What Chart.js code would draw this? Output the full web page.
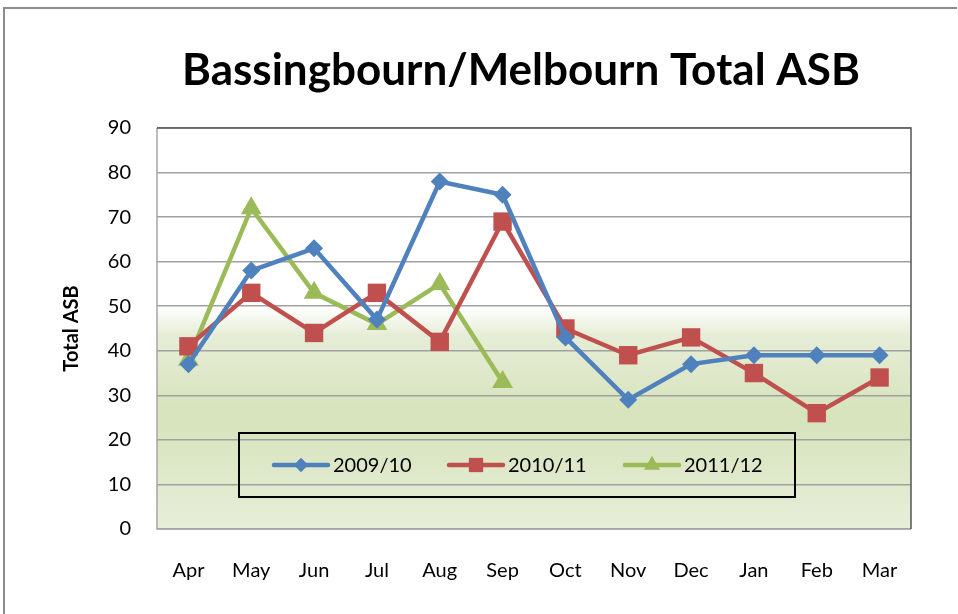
<!DOCTYPE html>
<html>
<head>
<meta charset="utf-8">
<script src="https://cdn.jsdelivr.net/npm/chart.js@4.4.0/dist/chart.umd.min.js"></script>
<style>
  html, body { margin: 0; padding: 0; background: #ffffff; }
  #wrap { width: 958px; height: 614px; position: relative; }
</style>
</head>
<body>
<div id="wrap"><canvas id="c" width="958" height="614"></canvas></div>
<script>
const months = ['Apr','May','Jun','Jul','Aug','Sep','Oct','Nov','Dec','Jan','Feb','Mar'];
const s2009 = [37, 58, 63, 47, 78, 75, 43, 29, 37, 39, 39, 39];
const s2010 = [41, 53, 44, 53, 42, 69, 45, 39, 43, 35, 26, 34];
const s2011 = [38, 72, 53, 46, 55, 33];
const seriesNames = ['2009/10', '2010/11', '2011/12'];
const yTicks = [0, 10, 20, 30, 40, 50, 60, 70, 80, 90];
const chartTitle = 'Bassingbourn/Melbourn Total ASB';
const yTitle = 'Total ASB';

const BLUE = '#4F81BD', RED = '#C0504D', GREEN = '#9BBB59';
const FONT = 'Lato';

const bgPlugin = {
  id: 'bg',
  beforeDraw(chart) {
    const { ctx, chartArea: a } = chart;
    ctx.save();
    // outer frame
    ctx.strokeStyle = '#8c8c8c';
    ctx.lineWidth = 2;
    ctx.beginPath();
    ctx.moveTo(4, 614); ctx.lineTo(4, 8); ctx.lineTo(957, 8);
    ctx.stroke();
    // chart title
    ctx.fillStyle = '#000000';
    ctx.font = 'bold 44px ' + FONT;
    ctx.textAlign = 'center';
    ctx.textBaseline = 'alphabetic';
    ctx.fillText(chartTitle, 521, 85);
    // plot background gradient
    const h = a.bottom - a.top;
    const g = ctx.createLinearGradient(0, a.top, 0, a.bottom);
    g.addColorStop(0, '#ffffff');
    g.addColorStop((307 - a.top) / h, '#ffffff');
    g.addColorStop((335 - a.top) / h, '#e6edd7');
    g.addColorStop((415 - a.top) / h, '#d6e3bb');
    g.addColorStop(1, '#e7eed9');
    ctx.fillStyle = g;
    ctx.fillRect(a.left, a.top, a.right - a.left, h);
    ctx.restore();
  },
  afterDatasetsDraw(chart) {
    const { ctx, chartArea: a } = chart;
    ctx.save();
    // plot border
    ctx.lineWidth = 1.5;
    ctx.strokeStyle = '#a6a6a6';
    ctx.beginPath();
    ctx.moveTo(a.left, a.top); ctx.lineTo(a.left, a.bottom); ctx.lineTo(a.right, a.bottom);
    ctx.stroke();
    ctx.strokeStyle = '#555555';
    ctx.beginPath();
    ctx.moveTo(a.left, a.top); ctx.lineTo(a.right, a.top); ctx.lineTo(a.right, a.bottom);
    ctx.stroke();

    // legend box
    const bx = 239, by = 433, bw = 556, bh = 64;
    ctx.strokeStyle = '#000000';
    ctx.lineWidth = 2;
    ctx.strokeRect(bx, by, bw, bh);
    const cy = 465;
    const items = [
      { x: 274, color: BLUE, style: 'rectRot', r: 7 },
      { x: 449, color: RED, style: 'rect', r: 10 },
      { x: 625, color: GREEN, style: 'triangle', r: 9 }
    ];
    ctx.font = '20px ' + FONT;
    ctx.textBaseline = 'middle';
    ctx.textAlign = 'left';
    items.forEach((it, i) => {
      ctx.strokeStyle = it.color;
      ctx.lineWidth = 4.5;
      ctx.lineCap = 'round';
      ctx.beginPath();
      ctx.moveTo(it.x, cy); ctx.lineTo(it.x + 54, cy);
      ctx.stroke();
      ctx.fillStyle = it.color;
      Chart.helpers.drawPoint(ctx, { pointStyle: it.style, radius: it.r, rotation: 0, borderWidth: 0 }, it.x + 27, cy);
      ctx.fill();
      ctx.fillStyle = '#000000';
      ctx.fillText(seriesNames[i], it.x + 59, cy + 1);
    });
    ctx.restore();
  }
};

const ctx = document.getElementById('c').getContext('2d');
new Chart(ctx, {
  type: 'line',
  data: {
    labels: months,
    datasets: [
      { label: seriesNames[0], data: s2009, borderColor: BLUE, backgroundColor: BLUE,
        pointStyle: 'rectRot', pointRadius: 9, pointHoverRadius: 9, borderWidth: 4.5, pointBorderWidth: 0 },
      { label: seriesNames[1], data: s2010, borderColor: RED, backgroundColor: RED,
        pointStyle: 'rect', pointRadius: 13, pointHoverRadius: 13, borderWidth: 4.5, pointBorderWidth: 0 },
      { label: seriesNames[2], data: s2011, borderColor: GREEN, backgroundColor: GREEN,
        pointStyle: 'triangle', pointRadius: 12, pointHoverRadius: 12, borderWidth: 4.5, pointBorderWidth: 0 }
    ]
  },
  options: {
    responsive: false,
    animation: false,
    devicePixelRatio: 1,
    layout: { padding: { left: 0, right: 47, top: 128, bottom: 0 } },
    plugins: {
      legend: { display: false },
      tooltip: { enabled: false },
      title: { display: false }
    },
    scales: {
      x: {
        offset: true,
        grid: { display: false, drawTicks: false },
        border: { display: false },
        ticks: { color: '#000000', font: { family: FONT, size: 20 }, padding: 30, maxRotation: 0, autoSkip: false },
        afterFit(scale) { scale.height = 85; }
      },
      y: {
        min: 0, max: 90,
        afterBuildTicks(scale) { scale.ticks = yTicks.map(v => ({ value: v })); },
        grid: { color: '#a0a0a0', lineWidth: 1.5, drawTicks: false },
        border: { display: false },
        ticks: { color: '#000000', font: { family: FONT, size: 20 }, padding: 26 },
        title: {
          display: true, text: yTitle, color: '#000000',
          font: { family: FONT, size: 20, weight: 'bold' },
          padding: { top: 60, bottom: 0 }
        },
        afterFit(scale) { scale.width = 157; }
      }
    }
  },
  plugins: [bgPlugin]
});
</script>
</body>
</html>
